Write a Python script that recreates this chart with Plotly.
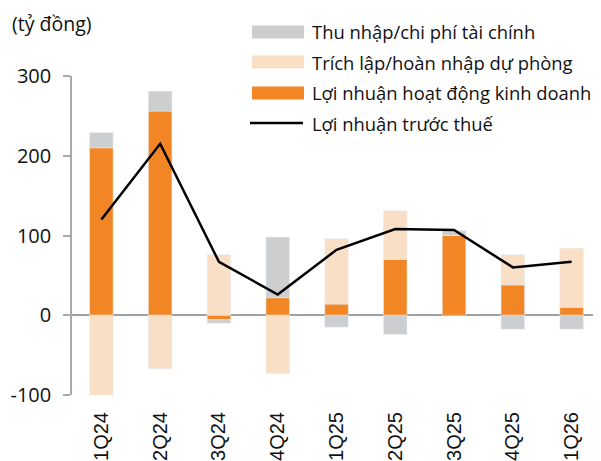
import plotly.graph_objects as go

quarters = ["1Q24", "2Q24", "3Q24", "4Q24", "1Q25", "2Q25", "3Q25", "4Q25", "1Q26"]
thu_nhap_tai_chinh = [19, 25, -4.5, 76, -15, -24, 6, -17.5, -17.5]
trich_lap_du_phong = [-103, -67, 76, -73, 82, 61, 0, 38, 74]
loi_nhuan_hdkd = [210, 256, -5.5, 22, 14, 70, 100, 38, 10]
loi_nhuan_truoc_thue = [120, 215, 67, 26, 82, 108, 107, 60, 67]
y_ticks = [-100, 0, 100, 200, 300]
y_tick_labels = ["-100", "0", "100", "200", "300"]

GRAY = "#CDCECF"
PEACH = "#F9DFC5"
ORANGE = "#F28624"
FONT = "Open Sans"

# the page body adds an 8px margin, so the figure is a bit smaller than the window
W, H = 593, 453
L, R, T, B = 64, 0, 68, 66
PLOT_LEFT, PLOT_BOTTOM = 72, 395  # in window pixels


def px_x(x):
    return (x - PLOT_LEFT) / (W - L - R)


def px_y(y):
    return (PLOT_BOTTOM - y) / (H - T - B)


fig = go.Figure()
fig.add_trace(go.Bar(x=quarters, y=loi_nhuan_hdkd, name="Lợi nhuận hoạt động kinh doanh",
                     marker_color=ORANGE, showlegend=False))
fig.add_trace(go.Bar(x=quarters, y=trich_lap_du_phong, name="Trích lập/hoàn nhập dự phòng",
                     marker_color=PEACH, showlegend=False))
fig.add_trace(go.Bar(x=quarters, y=thu_nhap_tai_chinh, name="Thu nhập/chi phí tài chính",
                     marker_color=GRAY, showlegend=False))
fig.add_trace(go.Scatter(x=quarters, y=loi_nhuan_truoc_thue, name="Lợi nhuận trước thuế",
                         mode="lines", line=dict(color="black", width=2.5), showlegend=False))

# hand-drawn legend with wide swatches
legend_items = [
    ("Thu nhập/chi phí tài chính", GRAY, "rect", 32),
    ("Trích lập/hoàn nhập dự phòng", PEACH, "rect", 62),
    ("Lợi nhuận hoạt động kinh doanh", ORANGE, "rect", 93),
    ("Lợi nhuận trước thuế", "black", "line", 123),
]
shapes = []
annotations = []
for label, color, kind, cy in legend_items:
    if kind == "rect":
        shapes.append(dict(type="rect", xref="paper", yref="paper",
                           x0=px_x(252), x1=px_x(304), y0=px_y(cy + 6.5), y1=px_y(cy - 6.5),
                           fillcolor=color, line_width=0))
    else:
        shapes.append(dict(type="line", xref="paper", yref="paper",
                           x0=px_x(250), x1=px_x(303), y0=px_y(cy), y1=px_y(cy),
                           line=dict(color=color, width=2.5)))
    annotations.append(dict(text=label, xref="paper", yref="paper", x=px_x(310), y=px_y(cy),
                            xanchor="left", yanchor="middle", showarrow=False,
                            font=dict(size=18.4, color="#111111")))

annotations.append(dict(text="(tỷ đồng)", xref="paper", yref="paper", x=px_x(10), y=px_y(8.5),
                        xanchor="left", yanchor="top", showarrow=False,
                        font=dict(size=19.5, color="#111111")))

fig.update_layout(
    width=W, height=H,
    margin=dict(l=L, r=R, t=T, b=B, autoexpand=False),
    barmode="relative",
    bargap=0.6,
    plot_bgcolor="white",
    paper_bgcolor="white",
    font=dict(family=FONT, color="#111111"),
    shapes=shapes,
    annotations=annotations,
)
fig.update_xaxes(
    automargin=False,
    tickangle=-90,
    tickfont=dict(family="Liberation Sans", size=20),
    ticklabelstandoff=12,
    showgrid=False, showline=False, ticks="",
)
fig.update_yaxes(
    automargin=False,
    range=[-100, 300],
    tickvals=y_ticks, ticktext=y_tick_labels,
    showgrid=False,
    showline=True, linecolor="#A9A9A9", linewidth=1.5,
    ticks="outside", ticklen=7, tickcolor="#A9A9A9", tickwidth=1.5,
    tickfont=dict(size=20),
    ticklabelstandoff=8,
    zeroline=True, zerolinecolor="#A0A0A0", zerolinewidth=2,
)

fig.write_html("out.html")
